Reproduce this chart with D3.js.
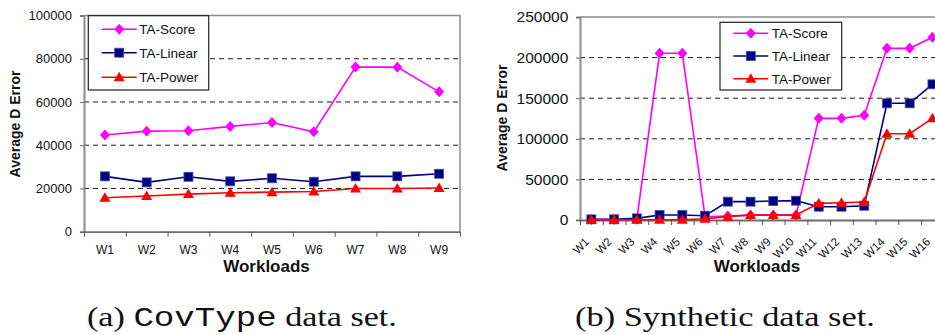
<!DOCTYPE html>
<html>
<head>
<meta charset="utf-8">
<script src="https://cdn.jsdelivr.net/npm/d3@7"></script>
<style>
  html, body { margin: 0; padding: 0; background: #fff; }
  svg { display: block; }
</style>
</head>
<body>
<svg id="chart" width="935" height="335"></svg>
<script>
// ---------- Data ----------
const seriesNames = ["TA-Score", "TA-Linear", "TA-Power"];

const leftCategories = ["W1","W2","W3","W4","W5","W6","W7","W8","W9"];
const leftScore  = [44700, 46500, 46700, 48700, 50500, 46200, 76200, 76100, 64700];
const leftLinear = [25600, 22800, 25400, 23300, 24700, 23100, 25600, 25600, 26800];
const leftPower  = [15700, 16500, 17400, 18000, 18300, 18600, 20000, 20000, 20200];
const leftYTicks = [0, 20000, 40000, 60000, 80000, 100000];

const rightCategories = ["W1","W2","W3","W4","W5","W6","W7","W8","W9","W10","W11","W12","W13","W14","W15","W16"];
const rightScore  = [500, 500, 1000, 205300, 205300, 4000, 5000, 6000, 6000, 6000, 125200, 125200, 128900, 211400, 211400, 225000];
const rightLinear = [800, 800, 2000, 6200, 6200, 5300, 22600, 22600, 23400, 23800, 16400, 16400, 17600, 143700, 143700, 167100];
const rightPower  = [300, 300, 300, 300, 300, 1500, 4100, 6200, 6200, 6200, 20500, 21300, 22200, 106300, 106300, 125200];
const rightYTicks = [0, 50000, 100000, 150000, 200000, 250000];

const yTitle = "Average D Error";
const xTitle = "Workloads";

// ---------- Styles ----------
const colors = { "TA-Score": "#ff00ff", "TA-Linear": "#000080", "TA-Power": "#ff0000" };
const shapes = { "TA-Score": "diamond", "TA-Linear": "square", "TA-Power": "triangle" };
const SANS = "Arial, 'Liberation Sans', sans-serif";

const svg = d3.select("#chart");

function marker(g, shape, x, y, color) {
  if (shape === "diamond") {
    g.append("path")
      .attr("d", `M${x},${y-5.5}L${x+5},${y}L${x},${y+5.5}L${x-5},${y}Z`)
      .attr("fill", color);
  } else if (shape === "square") {
    g.append("rect")
      .attr("x", x - 4.5).attr("y", y - 4.5)
      .attr("width", 9).attr("height", 9)
      .attr("fill", color)
      .attr("stroke", "#4b4ba6").attr("stroke-width", 0.8);
  } else {
    g.append("path")
      .attr("d", `M${x},${y-5.5}L${x+5.5},${y+4}L${x-5.5},${y+4}Z`)
      .attr("fill", color);
  }
}

function drawChart(cfg) {
  const g = svg.append("g");
  const { left, right, top, bottom } = cfg;

  const x = d3.scaleBand().domain(cfg.categories).range([left, right]).padding(0);
  const xb = d3.scaleLinear().domain([0, cfg.categories.length]).range([left, right]);
  const y = d3.scaleLinear().domain([0, cfg.yTicks[cfg.yTicks.length - 1]]).range([bottom, top]);

  // gridlines (dashed)
  g.append("g").selectAll("line")
    .data(cfg.yTicks.slice(1, -1))
    .join("line")
    .attr("x1", left).attr("x2", right)
    .attr("y1", d => y(d)).attr("y2", d => y(d))
    .attr("stroke", "#1a1a1a").attr("stroke-width", 1)
    .attr("stroke-dasharray", "5,4");

  // plot border top and right
  g.append("path")
    .attr("d", `M${left},${y(cfg.yTicks[cfg.yTicks.length-1])}H${right}V${bottom}`)
    .attr("fill", "none").attr("stroke", "#8c8c8c").attr("stroke-width", 1.5);

  // y axis
  const yAxis = d3.axisLeft(y).tickValues(cfg.yTicks).tickFormat(d => String(d))
    .tickSize(4).tickPadding(cfg.yPad);
  const ya = g.append("g").attr("transform", `translate(${left},0)`).call(yAxis);
  ya.select(".domain").attr("stroke", "#8c8c8c").attr("stroke-width", 2);
  ya.selectAll(".tick line").attr("stroke", "#666");
  ya.selectAll("text").attr("font-family", SANS)
    .attr("font-size", cfg.yFont).attr("fill", "#111");

  // x axis with boundary ticks
  const xAxis = d3.axisBottom(xb).tickValues(d3.range(cfg.categories.length + 1))
    .tickFormat("").tickSize(5).tickSizeOuter(0);
  const xa = g.append("g").attr("transform", `translate(0,${bottom})`).call(xAxis);
  xa.select(".domain").attr("stroke", "#6e6e6e").attr("stroke-width", 1.8);
  xa.selectAll(".tick line").attr("stroke", "#555");

  // x tick labels
  const lab = g.append("g").selectAll("text").data(cfg.categories).join("text")
    .attr("font-family", SANS)
    .attr("font-size", cfg.xFont).attr("fill", "#111")
    .text(d => d);
  if (cfg.rotate) {
    lab.attr("text-anchor", "end")
      .attr("transform", d => `translate(${x(d) + x.bandwidth()/2 - 1.5},${bottom + 22.5}) rotate(-45)`);
  } else {
    lab.attr("text-anchor", "middle")
      .attr("x", d => x(d) + x.bandwidth()/2)
      .attr("y", bottom + 22);
  }

  // axis titles
  g.append("text")
    .attr("x", cfg.xTitleX).attr("y", cfg.xTitleY)
    .attr("text-anchor", "middle")
    .attr("font-family", SANS)
    .attr("font-weight", "bold").attr("font-size", 17).attr("fill", "#111")
    .text(xTitle);
  g.append("text")
    .attr("transform", `translate(${cfg.yTitleX},${cfg.yTitleY}) rotate(-90)`)
    .attr("text-anchor", "middle").attr("dy", "0.35em")
    .attr("font-family", SANS)
    .attr("font-weight", "bold").attr("font-size", 14).attr("fill", "#111")
    .text(yTitle);

  // series
  const line = d3.line().x((d, i) => x(cfg.categories[i]) + x.bandwidth()/2).y(d => y(d));
  cfg.series.forEach(s => {
    g.append("path").datum(s.values)
      .attr("d", line).attr("fill", "none")
      .attr("stroke", colors[s.name]).attr("stroke-width", 1.6);
    const mg = g.append("g");
    s.values.forEach((v, i) => marker(mg, shapes[s.name], x(cfg.categories[i]) + x.bandwidth()/2, y(v), colors[s.name]));
  });

  // legend
  const L = cfg.legend;
  const lg = g.append("g");
  lg.append("rect").attr("x", L.x).attr("y", L.y).attr("width", L.w).attr("height", L.h)
    .attr("fill", "#fff").attr("stroke", "#222").attr("stroke-width", 1.2);
  seriesNames.forEach((name, i) => {
    const cy = L.rows[i];
    lg.append("line").attr("x1", L.lx1).attr("x2", L.lx2).attr("y1", cy).attr("y2", cy)
      .attr("stroke", colors[name]).attr("stroke-width", 1.6);
    marker(lg, shapes[name], (L.lx1 + L.lx2) / 2, cy, colors[name]);
    lg.append("text").attr("x", L.tx).attr("y", cy).attr("dy", "0.36em")
      .attr("font-family", SANS)
      .attr("font-size", 13.5).attr("fill", "#111").text(name);
  });
}

drawChart({
  categories: leftCategories,
  left: 84, right: 460, top: 15.5, bottom: 231.7,
  yTicks: leftYTicks, yPad: 8, yFont: 13, xFont: 12, rotate: false,
  xTitleX: 266.5, xTitleY: 272, yTitleX: 15.5, yTitleY: 124,
  series: [
    { name: "TA-Score", values: leftScore },
    { name: "TA-Linear", values: leftLinear },
    { name: "TA-Power", values: leftPower }
  ],
  legend: { x: 88.3, y: 15.7, w: 120.4, h: 74.3, rows: [29.3, 52.7, 77.3], lx1: 101.7, lx2: 136.7, tx: 139.3 }
});

drawChart({
  categories: rightCategories,
  left: 580, right: 943.8, top: 17, bottom: 220,
  yTicks: rightYTicks, yPad: 7.7, yFont: 15.5, xFont: 11.5, rotate: true,
  xTitleX: 757, xTitleY: 272, yTitleX: 501.7, yTitleY: 118,
  series: [
    { name: "TA-Score", values: rightScore },
    { name: "TA-Linear", values: rightLinear },
    { name: "TA-Power", values: rightPower }
  ],
  legend: { x: 720, y: 22.3, w: 121.7, h: 67.7, rows: [33.3, 56, 78.7], lx1: 733.3, lx2: 768.3, tx: 771.7 }
});

// ---------- Captions ----------
function caption(parts, xStart, xEnd, baseline) {
  const t = svg.append("text").attr("x", 0).attr("y", 0)
    .attr("font-size", 27).attr("fill", "#111");
  parts.forEach(p => {
    t.append("tspan").attr("font-family", p.mono ? "'Liberation Mono', 'DejaVu Sans Mono', monospace" : "'Liberation Serif', 'Times New Roman', serif")
      .text(p.text);
  });
  const w = t.node().getComputedTextLength();
  const sx = (xEnd - xStart) / w;
  t.attr("transform", `translate(${xStart},${baseline}) scale(${sx},1)`);
}
caption([{ text: "(a) " }, { text: "CovType", mono: true }, { text: " data set." }], 87, 397, 326);
caption([{ text: "(b) Synthetic data set." }], 575, 875, 326);
</script>
</body>
</html>
